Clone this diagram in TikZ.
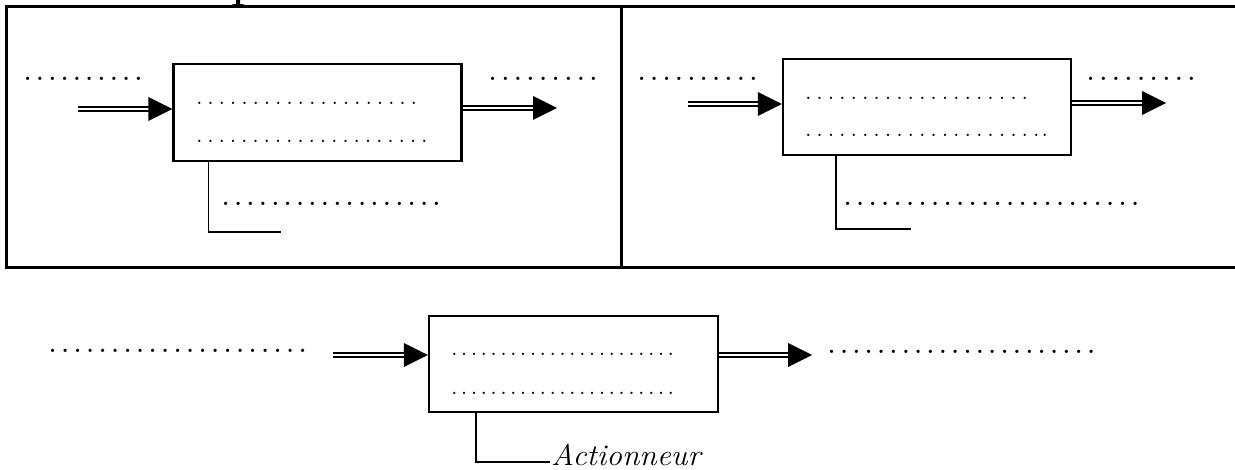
\documentclass[tikz,border=0pt]{standalone}
\usepackage{fontspec}
\usepackage{graphicx}
\usetikzlibrary{calc}

% a row of n dots, each set in a cell of the given width
\newcommand\dotrow[2]{\foreach \k in {1,...,#1}{\makebox[#2][l]{.}}}

% double-line arrow with a solid triangular head, from #1 to #2
\newcommand\dblarrow[2]{%
  \draw[dblshaft] (#1) -- ($(#2)+(-20,0)$);
  \fill ($(#2)+(-24,-12)$) -- (#2) -- ($(#2)+(-24,12)$) -- cycle;}

\tikzset{
  frame/.style={line width=3pt},
  block/.style={draw, line width=2.2pt, inner sep=0pt},
  dblshaft/.style={double, double distance=2pt, line width=2.4pt},
  support/.style={line width=1.7pt},
  outdots/.style={anchor=base west, inner sep=0pt, font=\fontsize{23}{23}\selectfont\bfseries},
  indots/.style={anchor=base west, inner sep=0pt, font=\fontsize{16}{16}\selectfont\bfseries},
}

\begin{document}
\begin{tikzpicture}[x=1pt, y=-1pt]
\useasboundingbox (0,0) rectangle (1235,470);

% tail of a heading letter above the frame
\fill (236,0) -- (240,0) -- (240,4) -- (244,4.5) -- (244,6) -- (232,6) -- (232,4.5) -- (236,4) -- cycle;

% frame of the two upper panels
\draw[frame] (1235,7) -- (6,7) -- (6,268) -- (1235,268);
\draw[frame] (621,7) -- (621,268);

% ---------- left panel ----------
\node[block, minimum width=288pt, minimum height=97pt] (boxL) at (317.5,112.5) {};
\node[outdots] (inTxtL)  at (24,80.8)  {\dotrow{10}{12.3pt}};
\node[outdots] (outTxtL) at (489,80.8) {\dotrow{9}{12.6pt}};
\node[indots]  (l1L)     at (196.6,104.2)  {\dotrow{20}{11.3pt}};
\node[indots]  (l2L)     at (196.6,142.2)  {\dotrow{21}{11.25pt}};
\node[outdots] (supTxtL) at (222,205.8) {\dotrow{18}{12.4pt}};
\coordinate (inL) at (78,109);
\coordinate (tipL) at (inL -| boxL.west);
\coordinate (outL) at (557,108);
\coordinate (srcL) at (outL -| boxL.east);
\dblarrow{inL}{tipL}
\dblarrow{srcL}{outL}
\coordinate (sL) at (281,232);
\draw[support] (boxL.south west) ++(36,0) |- (sL);

% ---------- right panel ----------
\node[block, minimum width=288pt, minimum height=96pt] (boxR) at (927,107) {};
\node[outdots] (inTxtR)  at (638,80.8)  {\dotrow{10}{12.4pt}};
\node[outdots] (outTxtR) at (1087,80.8) {\dotrow{9}{12.6pt}};
\node[indots]  (l1R)     at (805.6,99.2)    {\dotrow{20}{11.4pt}};
\node[indots]  (l2R)     at (805.6,136.2)   {\dotrow{20}{11.4pt}\dotrow{2}{8.5pt}};
\node[outdots] (supTxtR) at (844,205.8) {\dotrow{24}{12.5pt}};
\coordinate (inR) at (688,104);
\coordinate (tipR) at (inR -| boxR.west);
\coordinate (outR) at (1166,103);
\coordinate (srcR) at (outR -| boxR.east);
\dblarrow{inR}{tipR}
\dblarrow{srcR}{outR}
\coordinate (sR) at (911,229);
\draw[support] (boxR.south west) ++(54,0) |- (sR);

% ---------- lower diagram ----------
\node[block, minimum width=289pt, minimum height=96pt] (boxB) at (573.5,364) {};
\node[outdots] (inTxtB)  at (49,352.8)  {\dotrow{21}{12.5pt}};
\node[outdots] (outTxtB) at (828,353.8) {\dotrow{22}{12.35pt}};
\node[indots]  (l1B)     at (451.6,355.2)   {\dotrow{23}{9.85pt}};
\node[indots]  (l2B)     at (451.6,394.2)   {\dotrow{23}{9.85pt}};
\coordinate (inB) at (333,355);
\coordinate (tipB) at (inB -| boxB.west);
\coordinate (outB) at (812,355);
\coordinate (srcB) at (outB -| boxB.east);
\dblarrow{inB}{tipB}
\dblarrow{srcB}{outB}
\node[anchor=base west, inner sep=0pt, font=\fontsize{30}{30}\selectfont\itshape] (act) at (551,465)
  {\scalebox{1.05}[1]{Actionneur}};
\coordinate (sB) at (550,462);
\draw[support] (boxB.south west) ++(48,0) |- (sB);
\end{tikzpicture}
\end{document}
